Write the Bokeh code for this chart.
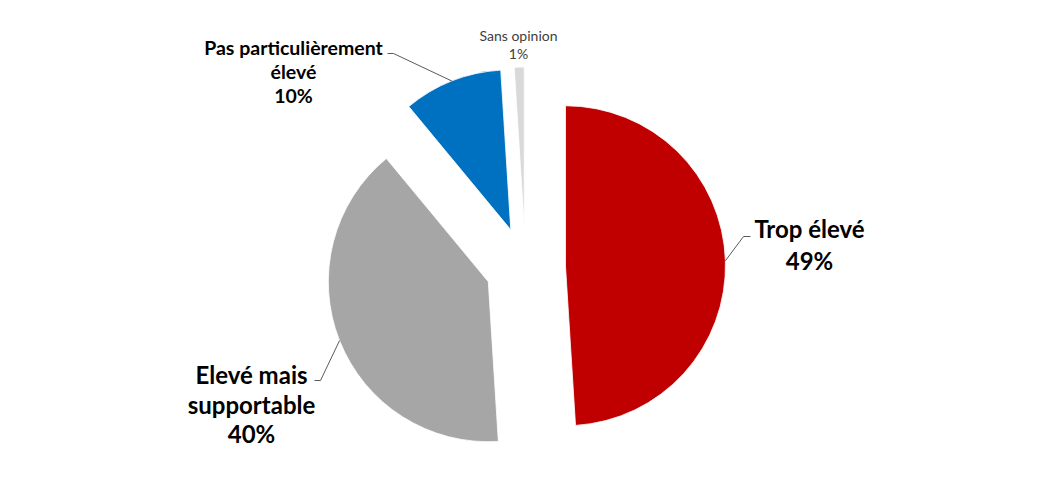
import numpy as np
from bokeh.plotting import figure
from bokeh.models import Range1d
from bokeh.embed import file_html
from bokeh.resources import INLINE
from bokeh.core.properties import value

# ---- data ----
categories = ["Trop élevé", "Elevé mais supportable", "Pas particulièrement élevé", "Sans opinion"]
percent = [49, 40, 10, 1]
colors = ["#C00000", "#A6A6A6", "#0070C0", "#D9D9D9"]
label_lines = [["Trop élevé"], ["Elevé mais", "supportable"], ["Pas particulièrement", "élevé"], ["Sans opinion"]]

# ---- layout (screen pixels, y down) ----
PAGE_W, PAGE_H, MARGIN = 1040, 492, 8
W, H = PAGE_W - 2 * MARGIN, PAGE_H - 2 * MARGIN
CX, CY = 525, 266.5          # pie centre
R = 160                       # radius
EXPLODE = 40                  # explosion distance

label_x = [809, 251, 293, 518]
label_base = [228, 374, 47, 35]
label_step = [32, 29.5, 24, 18]
label_size = [24, 24, 19.5, 14]
label_bold = [True, True, True, False]
label_color = ["#000000", "#000000", "#000000", "#404040"]
leader_elbow = [(743, 236), (320, 380), (393, 53), None]
leader_end = [(750, 236), (314, 380), (387, 53), None]


def sy(y):
    return PAGE_H - y


p = figure(width=W, height=H, x_range=Range1d(0, W),
           y_range=Range1d(PAGE_H - H, PAGE_H), output_backend="svg",
           toolbar_location=None, x_axis_location=None, y_axis_location=None,
           min_border=0, outline_line_color=None)
p.grid.visible = False
p.background_fill_color = "white"
p.border_fill_color = "white"

vals = np.array(percent, dtype=float)
fr = vals / vals.sum()
theta_end = np.cumsum(fr) * 2 * np.pi
theta_start = theta_end - fr * 2 * np.pi
theta_mid = (theta_start + theta_end) / 2

xs_c, ys_c = [], []
for tm in theta_mid:
    xs_c.append(CX + EXPLODE * np.sin(tm))
    ys_c.append(sy(CY) + EXPLODE * np.cos(tm))

p.wedge(x=xs_c, y=ys_c, radius=R,
        start_angle=list(np.pi / 2 - theta_start),
        end_angle=list(np.pi / 2 - theta_end),
        direction="clock", fill_color=colors, line_color="white", line_width=0.8)

# leader lines
lx, ly = [], []
for i in range(len(percent)):
    if leader_elbow[i] is None:
        continue
    sx = xs_c[i] + R * np.sin(theta_mid[i])
    syy = ys_c[i] + R * np.cos(theta_mid[i])
    ex, ey = leader_elbow[i]
    fx, fy = leader_end[i]
    lx.append([sx, ex, fx])
    ly.append([syy, sy(ey), sy(fy)])
p.multi_line(xs=lx, ys=ly, line_color="#595959", line_width=1)

# labels
for i in range(len(percent)):
    lines = label_lines[i] + [f"{percent[i]}%"]
    for k, t in enumerate(lines):
        p.text(x=[label_x[i]], y=[sy(label_base[i] + k * label_step[i])], text=[t],
               text_font=value("Lato"),
               text_font_style="bold" if label_bold[i] else "normal",
               text_font_size=f"{label_size[i]}px", text_color=label_color[i],
               text_align="center", text_baseline="alphabetic")

open("out.html", "w").write(file_html(p, INLINE))
